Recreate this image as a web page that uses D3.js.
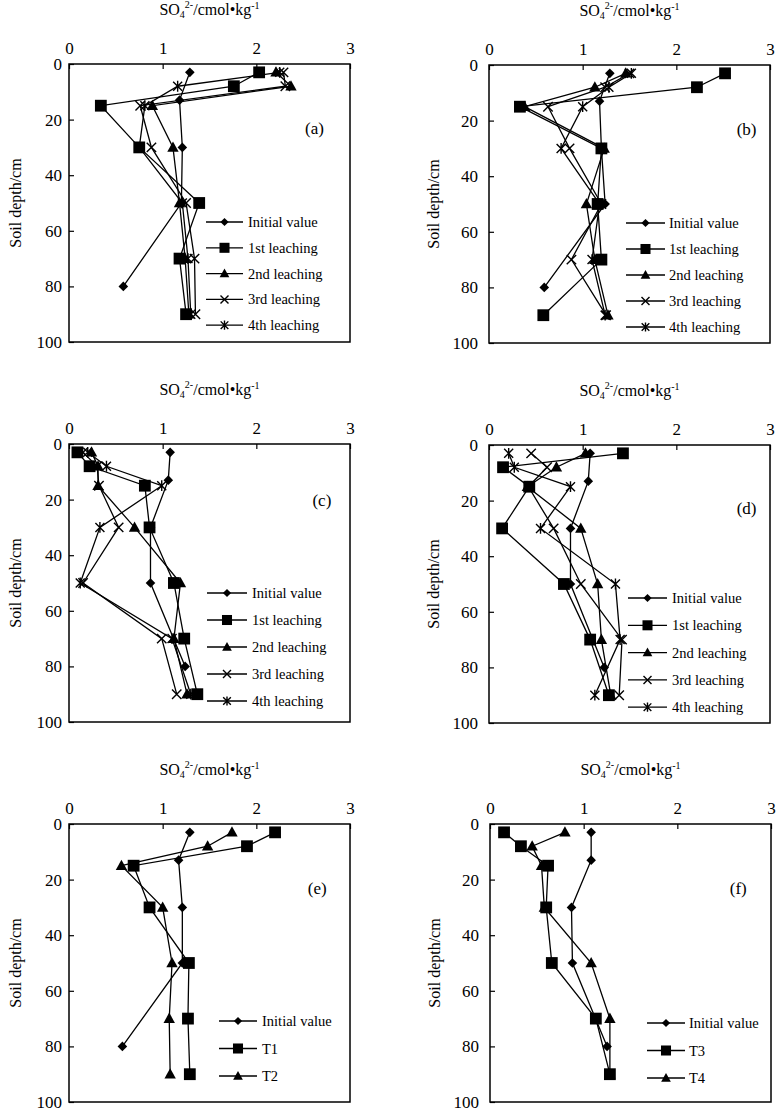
<!DOCTYPE html>
<html><head><meta charset="utf-8">
<script src="https://cdn.jsdelivr.net/npm/d3@7"></script>
<style>
body{margin:0;background:#fff}
svg{display:block}
text{font-family:"Liberation Serif","Times New Roman",serif;fill:#000}
</style>
</head><body>
<svg id="chart" width="779" height="1114"></svg>
<script>
// ---------- data ----------
const leachDepths = [3, 8, 15, 30, 50, 70, 90];
const initDepths  = [3, 13, 30, 50, 80];
const xTicks = [0, 1, 2, 3];
const yTicks = [0, 20, 40, 60, 80, 100];
const leachNames = ["Initial value", "1st leaching", "2nd leaching", "3rd leaching", "4th leaching"];
const namesE = ["Initial value", "T1", "T2"];
const namesF = ["Initial value", "T3", "T4"];

// panel (a)
const aInitial = [1.29, 1.18, 1.21, 1.20, 0.58];
const aFirst   = [2.03, 1.76, 0.34, 0.75, 1.39, 1.18, 1.25];
const aSecond  = [2.21, 2.37, 0.89, 1.11, 1.18, 1.24, 1.28];
const aThird   = [2.29, 2.31, 0.76, 0.88, 1.25, 1.34, 1.35];
const aFourth  = [2.25, 1.16, 0.81, 0.75, 1.21, 1.27, 1.30];
// panel (b)
const bInitial = [1.29, 1.18, 1.20, 1.24, 0.59];
const bFirst   = [2.52, 2.22, 0.33, 1.20, 1.16, 1.20, 0.58];
const bSecond  = [1.46, 1.13, 0.38, 1.23, 1.04, 1.13, 1.27];
const bThird   = [1.50, 1.24, 0.63, 0.86, 1.20, 0.88, 1.25];
const bFourth  = [1.52, 1.28, 1.00, 0.77, 1.18, 1.10, 1.24];
// panel (c)
const cInitial = [1.08, 1.06, 0.87, 0.87, 1.24];
const cFirst   = [0.09, 0.22, 0.81, 0.86, 1.12, 1.23, 1.37];
const cSecond  = [0.24, 0.31, 0.31, 0.70, 1.19, 1.12, 1.26];
const cThird   = [0.15, 0.30, 0.32, 0.53, 0.15, 0.99, 1.15];
const cFourth  = [0.20, 0.40, 0.99, 0.33, 0.12, 1.10, 1.30];
// panel (d)
const dInitial = [1.08, 1.06, 0.87, 0.87, 1.23];
const dFirst   = [1.43, 0.15, 0.43, 0.14, 0.80, 1.08, 1.28];
const dSecond  = [1.03, 0.72, 0.41, 0.98, 1.16, 1.20, 1.30];
const dThird   = [0.45, 0.62, 0.42, 0.69, 0.98, 1.42, 1.39];
const dFourth  = [0.21, 0.27, 0.87, 0.55, 1.35, 1.40, 1.13];
// panel (e)
const eInitial = [1.29, 1.17, 1.21, 1.21, 0.57];
const eT1      = [2.20, 1.90, 0.69, 0.86, 1.28, 1.27, 1.29];
const eT2      = [1.74, 1.48, 0.56, 1.00, 1.10, 1.07, 1.08];
// panel (f)
const fInitial = [1.08, 1.08, 0.87, 0.88, 1.25];
const fT3      = [0.15, 0.33, 0.62, 0.60, 0.66, 1.13, 1.28];
const fT4      = [0.80, 0.45, 0.55, 0.58, 1.08, 1.28, 1.28];

const symbolsOrder = ["diamond", "square", "triangle", "x", "asterisk"];

const panels = [
  {label:"(a)", names:leachNames, values:[aInitial,aFirst,aSecond,aThird,aFourth]},
  {label:"(b)", names:leachNames, values:[bInitial,bFirst,bSecond,bThird,bFourth]},
  {label:"(c)", names:leachNames, values:[cInitial,cFirst,cSecond,cThird,cFourth]},
  {label:"(d)", names:leachNames, values:[dInitial,dFirst,dSecond,dThird,dFourth]},
  {label:"(e)", names:namesE, values:[eInitial,eT1,eT2]},
  {label:"(f)", names:namesF, values:[fInitial,fT3,fT4]}
];

// ---------- layout ----------
const W = 281, H = 278;
const layout = [
  {left:69,  top:64,  yPad:7,  yTitle:-54, lab:[2.62,23], lx0:137, lx1:174, ltx:179, ly0:158, lstep:25.8},
  {left:489, top:65,  yPad:11, yTitle:-56, lab:[2.75,23], lx0:137, lx1:176, ltx:180, ly0:158, lstep:26},
  {left:69,  top:444, yPad:7,  yTitle:-54, lab:[2.70,20], lx0:138, lx1:178, ltx:183, ly0:149, lstep:27},
  {left:489, top:445, yPad:11, yTitle:-56, lab:[2.75,22.6], lx0:139, lx1:178, ltx:183, ly0:153, lstep:27.3},
  {left:69,  top:824, yPad:7,  yTitle:-54, lab:[2.65,23], lx0:150, lx1:188, ltx:193, ly0:197, lstep:27.5},
  {left:490, top:824, yPad:11, yTitle:-56, lab:[2.65,23], lx0:157, lx1:195, ltx:199, ly0:199, lstep:27.5}
];

const svg = d3.select("#chart");
const FONT = '"Liberation Serif","Times New Roman",serif';

function drawMarker(g, type, cx, cy, s) {
  if (type === "diamond") {
    const r = 4.8*s;
    g.append("path").attr("d", `M${cx},${cy-r}L${cx+r},${cy}L${cx},${cy+r}L${cx-r},${cy}Z`).attr("fill","#000");
  } else if (type === "square") {
    const r = 5.9*s;
    g.append("rect").attr("x",cx-r).attr("y",cy-r).attr("width",2*r).attr("height",2*r).attr("fill","#000");
  } else if (type === "triangle") {
    const r = 5.7*s;
    g.append("path").attr("d", `M${cx},${cy-r*1.05}L${cx+r},${cy+r*0.75}L${cx-r},${cy+r*0.75}Z`).attr("fill","#000");
  } else if (type === "x") {
    const r = 4.7*s;
    g.append("path").attr("d", `M${cx-r},${cy-r}L${cx+r},${cy+r}M${cx-r},${cy+r}L${cx+r},${cy-r}`)
      .attr("stroke","#000").attr("stroke-width",1.4).attr("fill","none");
  } else if (type === "asterisk") {
    const r = 4.5*s;
    g.append("path").attr("d", `M${cx-r},${cy-r}L${cx+r},${cy+r}M${cx-r},${cy+r}L${cx+r},${cy-r}M${cx},${cy-r*1.2}L${cx},${cy+r*1.2}`)
      .attr("stroke","#000").attr("stroke-width",1.4).attr("fill","none");
  }
}

panels.forEach((p, i) => {
  const L = layout[i];
  const g = svg.append("g").attr("transform", `translate(${L.left},${L.top})`);
  const x = d3.scaleLinear().domain([0, 3]).range([0, W]);
  const y = d3.scaleLinear().domain([0, 100]).range([0, H]);

  const ax = g.append("g").call(d3.axisTop(x).tickValues(xTicks).tickSizeInner(-5).tickSizeOuter(0).tickPadding(10).tickFormat(d3.format("d")));
  ax.select(".domain").remove();
  ax.attr("font-family", null).attr("font-size", null);
  ax.selectAll("text").attr("font-size", 17).attr("font-family", FONT);
  ax.selectAll("line").attr("stroke-width", 1.2);

  const ay = g.append("g").call(d3.axisLeft(y).tickValues(yTicks).tickSizeInner(-5).tickSizeOuter(0).tickPadding(L.yPad).tickFormat(d3.format("d")));
  ay.select(".domain").remove();
  ay.attr("font-family", null).attr("font-size", null);
  ay.selectAll("text").attr("font-size", 17).attr("font-family", FONT);
  ay.selectAll("line").attr("stroke-width", 1.2);

  g.append("rect").attr("x",0).attr("y",0).attr("width",W).attr("height",H)
    .attr("fill","none").attr("stroke","#000").attr("stroke-width",1.5);

  // title
  const t = g.append("text").attr("x", W/2).attr("y", -49).attr("text-anchor","middle").attr("font-size",16);
  t.append("tspan").text("SO");
  t.append("tspan").attr("font-size",10).attr("dy",3).text("4");
  t.append("tspan").attr("font-size",10).attr("dy",-10).text("2-");
  t.append("tspan").attr("dy",7).text("/cmol•kg");
  t.append("tspan").attr("font-size",10).attr("dy",-6).text("-1");

  // y title
  g.append("text").attr("transform", `translate(${L.yTitle},${H/2}) rotate(-90)`)
    .attr("text-anchor","middle").attr("dy","0.35em").attr("font-size",16).text("Soil depth/cm");

  // panel label
  g.append("text").attr("x", x(L.lab[0])).attr("y", y(L.lab[1])).attr("dy","0.35em")
    .attr("text-anchor","middle").attr("font-size",17).text(p.label);

  // series
  const line = d3.line().x(d => x(d.v)).y(d => y(d.d));
  p.values.forEach((vals, si) => {
    const depths = si === 0 ? initDepths : leachDepths;
    const pts = vals.map((v, k) => ({v, d: depths[k]}));
    g.append("path").datum(pts).attr("d", line).attr("fill","none").attr("stroke","#000").attr("stroke-width",1.3);
  });
  p.values.forEach((vals, si) => {
    const depths = si === 0 ? initDepths : leachDepths;
    vals.forEach((v, k) => drawMarker(g, symbolsOrder[si], x(v), y(depths[k]), 1));
  });

  // legend
  p.names.forEach((nm, si) => {
    const ly = L.ly0 + si * L.lstep;
    g.append("line").attr("x1", L.lx0).attr("x2", L.lx1).attr("y1", ly).attr("y2", ly)
      .attr("stroke","#000").attr("stroke-width",1.3);
    drawMarker(g, symbolsOrder[si], (L.lx0 + L.lx1)/2, ly, 0.85);
    g.append("text").attr("x", L.ltx).attr("y", ly).attr("dy","0.35em").attr("font-size",14.5).text(nm);
  });
});
</script>
</body></html>
